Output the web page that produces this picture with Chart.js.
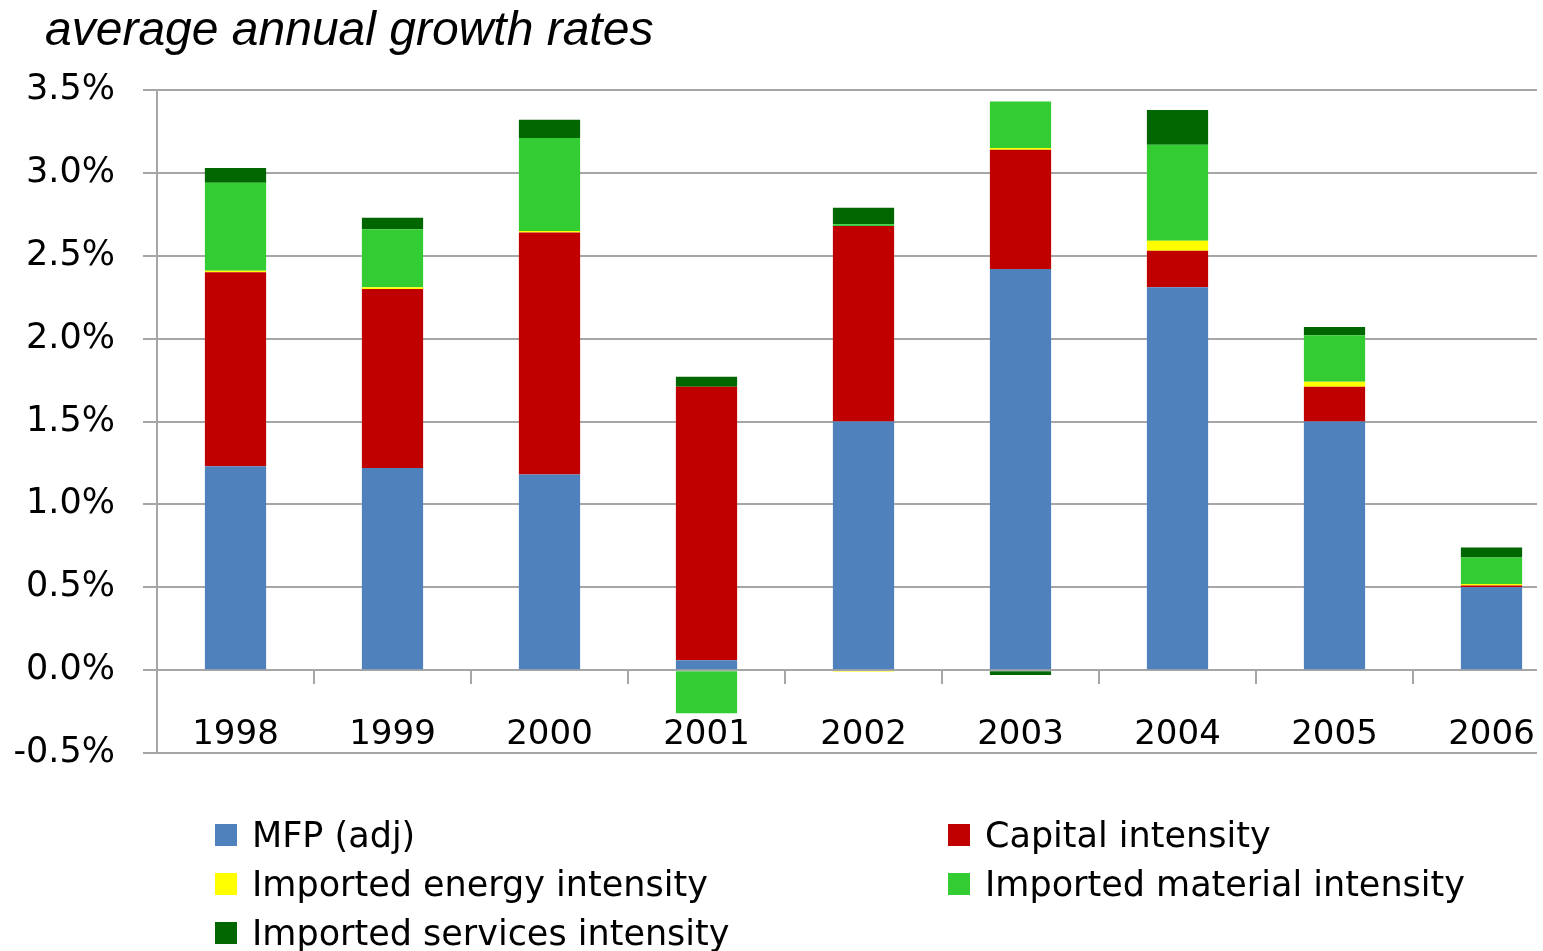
<!DOCTYPE html>
<html>
<head>
<meta charset="utf-8">
<script src="https://cdn.jsdelivr.net/npm/chart.js@4.4.1/dist/chart.umd.min.js"></script>
<style>
  html, body { margin: 0; padding: 0; background: #fff; overflow: hidden; }
  #wrap { position: relative; width: 1543px; height: 951px; overflow: hidden; background: #fff; }
  #clip { position: absolute; left: 0; top: 0; width: 1537px; height: 951px; overflow: hidden; }
  #chart { position: absolute; left: 0; top: 0; }
  #title { position: absolute; left: 45px; top: 5px; font-family: "Liberation Sans", Arial, sans-serif; font-style: italic; font-size: 48px; line-height: 48px; color: #000; white-space: nowrap; }
  .lg { position: absolute; font-family: "DejaVu Sans", sans-serif; font-size: 35px; line-height: 35px; color: #000; white-space: nowrap; }
  .lg .box { position: absolute; left: -37px; top: 6px; width: 22px; height: 22px; }
</style>
</head>
<body>
<div id="wrap">
  <div id="clip"><canvas id="chart" width="1580" height="951"></canvas></div>
  <div id="title">average annual growth rates</div>
  <div id="legend"></div>
</div>
<script>
const categories = ['1998', '1999', '2000', '2001', '2002', '2003', '2004', '2005', '2006'];
const seriesNames = ['MFP (adj)', 'Capital intensity', 'Imported energy intensity', 'Imported material intensity', 'Imported services intensity'];
const mfp       = [1.23, 1.22, 1.18, 0.06, 1.50, 2.42, 2.31, 1.50, 0.50];
const capital   = [1.17, 1.08, 1.46, 1.65, 1.18, 0.72, 0.22, 0.21, 0.01];
const energy    = [0.01, 0.01, 0.01, 0.00, -0.01, 0.01, 0.06, 0.03, 0.01];
const material  = [0.53, 0.35, 0.56, -0.26, 0.01, 0.28, 0.58, 0.28, 0.16];
const services  = [0.09, 0.07, 0.11, 0.06, 0.10, -0.03, 0.21, 0.05, 0.06];
const yTicks    = [-0.5, 0.0, 0.5, 1.0, 1.5, 2.0, 2.5, 3.0, 3.5];
const colors    = ['#4F81BD', '#C00000', '#FFFF00', '#33CC33', '#006600'];

const seriesValues = [mfp, capital, energy, material, services];
const gridColor = '#a6a6a6';

const chart = new Chart(document.getElementById('chart'), {
  type: 'bar',
  data: {
    labels: categories,
    datasets: seriesValues.map((vals, i) => ({
      label: seriesNames[i],
      data: vals,
      backgroundColor: colors[i],
      borderWidth: 0,
      barPercentage: 0.39,
      categoryPercentage: 1.0
    }))
  },
  options: {
    responsive: false,
    animation: false,
    layout: { padding: { left: 0, top: 90, right: 10, bottom: 198 } },
    plugins: { legend: { display: false }, title: { display: false }, tooltip: { enabled: false } },
    scales: {
      x: {
        stacked: true,
        position: { y: 0 },
        grid: { drawOnChartArea: false, drawTicks: true, tickLength: 13, color: gridColor, lineWidth: 2, offset: true },
        border: { display: true, color: gridColor, width: 2 },
        ticks: { font: { family: 'DejaVu Sans', size: 34 }, color: '#000', padding: 32, maxRotation: 0, autoSkip: false }
      },
      y: {
        stacked: true,
        min: yTicks[0],
        max: yTicks[yTicks.length - 1],
        afterFit: (scale) => { scale.width = 157; },
        afterBuildTicks: (scale) => { scale.ticks = yTicks.map(v => ({ value: v })); },
        grid: { color: gridColor, lineWidth: 2, tickLength: 14, drawTicks: true },
        border: { display: true, color: gridColor, width: 2 },
        ticks: {
          font: { family: 'DejaVu Sans', size: 35 }, color: '#000', padding: 28,
          callback: (v) => Number(v).toFixed(1) + '%'
        }
      }
    }
  }
});

// HTML legend built from the chart's datasets (two columns)
const legendEl = document.getElementById('legend');
const colX = [252, 985];
const rowTop = [818, 867, 916];
chart.data.datasets.forEach((ds, i) => {
  const item = document.createElement('div');
  item.className = 'lg';
  item.style.left = colX[i % 2] + 'px';
  item.style.top = rowTop[Math.floor(i / 2)] + 'px';
  const box = document.createElement('span');
  box.className = 'box';
  box.style.background = ds.backgroundColor;
  item.appendChild(box);
  item.appendChild(document.createTextNode(ds.label));
  legendEl.appendChild(item);
});
</script>
</body>
</html>
